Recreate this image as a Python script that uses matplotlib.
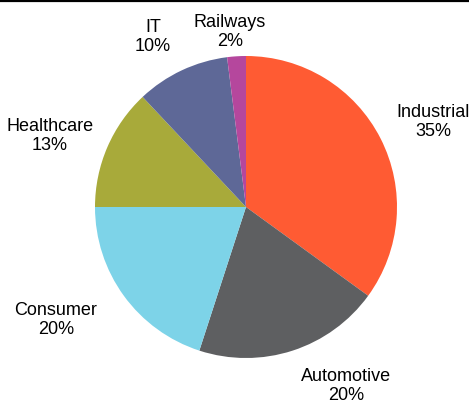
import matplotlib.pyplot as plt
from matplotlib.lines import Line2D

# Share of revenue by end market
segments = ["Industrial", "Automotive", "Consumer", "Healthcare", "IT", "Railways"]
shares = [35, 20, 20, 13, 10, 2]
colors = ["#FF5B33", "#5E5F61", "#7DD3E8", "#A8AA3A", "#5E6897", "#B5479D"]

plt.rcParams["font.family"] = ["Liberation Sans Narrow", "Liberation Sans", "DejaVu Sans"]

W, H = 469, 405
fig = plt.figure(figsize=(W / 100, H / 100), dpi=100)
ax = fig.add_axes([0, 0, 1, 1])

center = (246, 198)
radius = 151
wedges, _ = ax.pie(shares, colors=colors, startangle=90, counterclock=False,
                   radius=radius, center=center, frame=True,
                   wedgeprops=dict(linewidth=0))
ax.set_xlim(0, W)
ax.set_ylim(0, H)
ax.set_aspect("equal")
ax.axis("off")

# label anchors, pixels from the top-left corner
label_xy = [(433, 122), (346, 386), (56, 320), (50, 136), (153, 37), (230, 32)]
for name, val, (x, y) in zip(segments, shares, label_xy):
    ax.text(x, H - y, f"{name}\n{val}%", ha="center", va="center",
            fontsize=13, linespacing=1.22, color="black")

# rule across the top
fig.add_artist(Line2D([0, 1], [0.997, 0.997], color="black", linewidth=1.6,
                      transform=fig.transFigure))

fig.savefig("out.png", dpi=100)
